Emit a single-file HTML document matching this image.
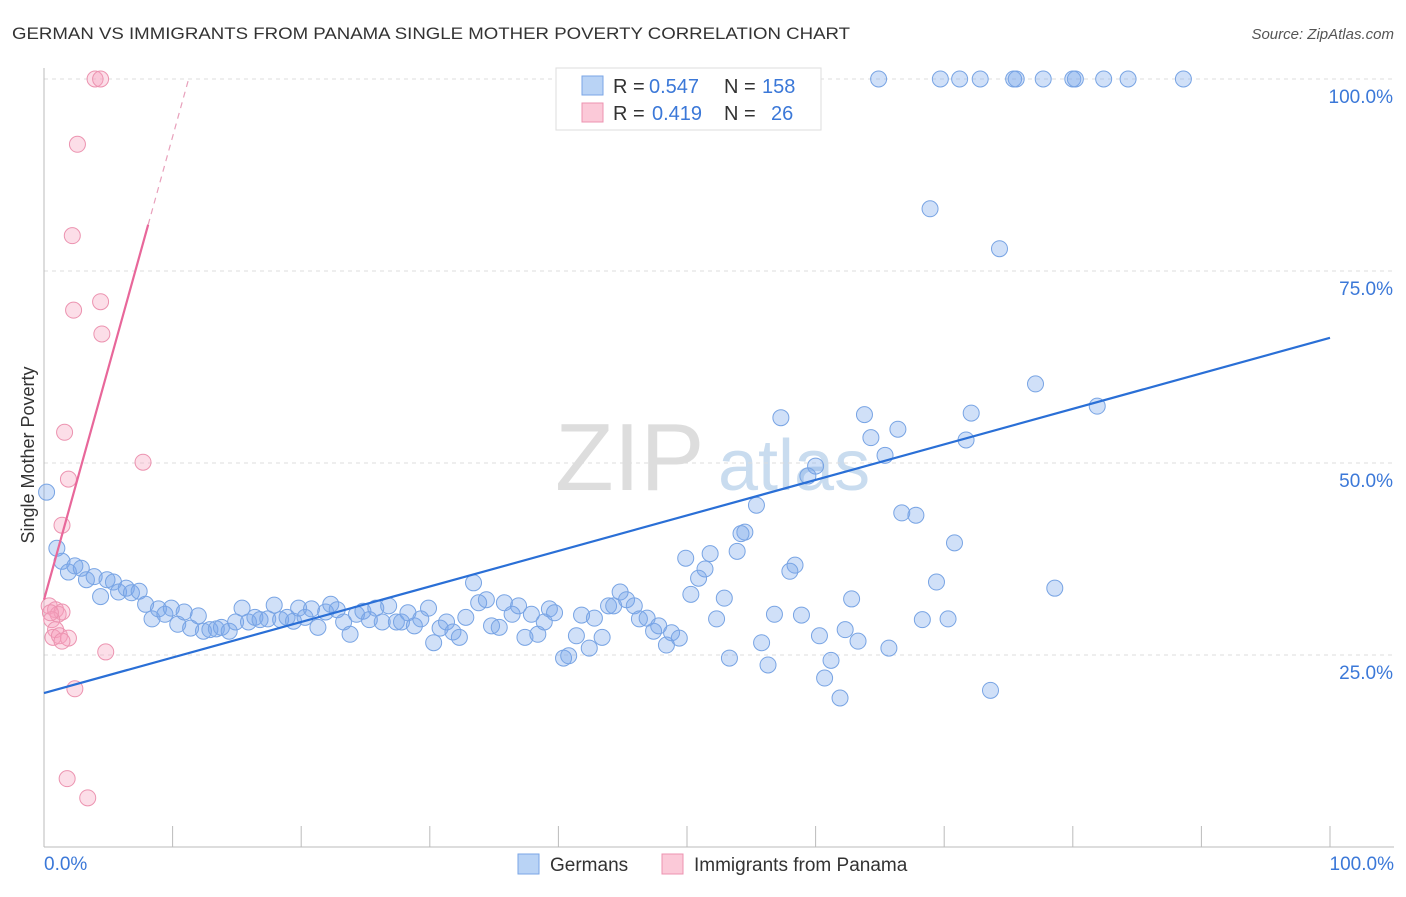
<!DOCTYPE html>
<html><head><meta charset="utf-8"><style>
body{margin:0;background:#fff;font-family:"Liberation Sans",sans-serif;}
svg text{font-family:"Liberation Sans",sans-serif;}
</style></head><body>
<svg id="chart" width="1406" height="892" xmlns="http://www.w3.org/2000/svg">
<text x="12" y="39" font-size="17" fill="#333" textLength="838" lengthAdjust="spacingAndGlyphs">GERMAN VS IMMIGRANTS FROM PANAMA SINGLE MOTHER POVERTY CORRELATION CHART</text>
<text x="1394" y="39" font-size="15" fill="#555" text-anchor="end" font-style="italic">Source: ZipAtlas.com</text>
<text x="555" y="490" font-size="96" fill="#ddd" font-family="Liberation Serif">ZIP</text>
<text x="718" y="490" font-size="72" fill="#c9dcef">atlas</text>
<g id="grid"></g><g id="axes"></g><g id="pts"></g><g id="lines"></g>
<text x="34" y="455" font-size="18" fill="#333" text-anchor="middle" transform="rotate(-90 34 455)">Single Mother Poverty</text>
<text x="44" y="870" font-size="19" fill="#3b78d8">0.0%</text>
<text x="1394" y="870" font-size="19" fill="#3b78d8" text-anchor="end">100.0%</text>
<g>
<rect x="556" y="68" width="265" height="62" fill="#fff" stroke="#ddd"/>
<rect x="582" y="76" width="21" height="19" fill="#b9d3f5" stroke="#7aa6e6"/>
<rect x="582" y="103" width="21" height="19" fill="#fbc9d8" stroke="#ec93b0"/>
<text x="613" y="93" font-size="20" fill="#333">R =</text>
<text x="649" y="93" font-size="20" fill="#3b78d8">0.547</text>
<text x="724" y="93" font-size="20" fill="#333">N =</text>
<text x="762" y="93" font-size="20" fill="#3b78d8">158</text>
<text x="613" y="120" font-size="20" fill="#333">R =</text>
<text x="652" y="120" font-size="20" fill="#3b78d8">0.419</text>
<text x="724" y="120" font-size="20" fill="#333">N =</text>
<text x="771" y="120" font-size="20" fill="#3b78d8">26</text>
</g>
<g>
<rect x="518" y="854" width="21" height="20" fill="#b9d3f5" stroke="#7aa6e6"/>
<text x="550" y="871" font-size="19" fill="#333">Germans</text>
<rect x="662" y="854" width="21" height="20" fill="#fbc9d8" stroke="#ec93b0"/>
<text x="694" y="871" font-size="19" fill="#333">Immigrants from Panama</text>
</g>
</svg>
<script>
const yTicks=[25,50,75,100];
const yTickLabels=["25.0%","50.0%","75.0%","100.0%"];
const germansX=[64.9,69.7,71.2,72.8,75.4,75.6,77.7,80.0,80.2,82.4,84.3,88.6,68.9,74.3,77.1,81.9,72.1,71.7,57.3,63.8,64.3,66.4,65.4,60.0,59.4,55.4,66.7,67.8,54.5,54.2,70.8,49.9,51.8,53.9,51.4,50.9,58.4,58.0,69.4,78.6,50.3,52.9,62.8,56.8,58.9,52.3,68.3,70.3,60.3,62.3,63.3,55.8,65.7,61.2,53.3,56.3,60.7,61.9,73.6,
0.2,1.0,1.4,1.9,2.4,2.9,3.3,3.9,4.4,4.9,5.4,5.8,6.4,6.8,7.4,7.9,8.4,8.9,9.4,9.9,10.4,10.9,11.4,12.0,12.4,12.9,13.4,13.8,14.4,14.9,15.4,15.9,16.4,16.8,17.4,17.9,18.4,18.9,19.4,19.8,20.3,20.8,21.3,21.9,22.3,22.8,23.3,23.8,24.3,24.8,25.3,25.8,26.3,26.8,27.4,27.8,28.3,28.8,29.3,29.9,30.3,30.8,31.3,31.8,32.3,32.8,33.4,33.8,34.4,34.8,35.4,35.8,36.4,36.9,37.4,37.9,38.4,38.9,39.3,39.7,40.4,40.8,41.4,41.8,42.4,42.8,43.4,43.9,44.3,44.8,45.3,45.9,46.3,46.9,47.4,47.8,48.4,48.8,49.4];
const germansY=[100,100,100,100,100,100,100,100,100,100,100,100,83.1,77.9,60.3,57.4,56.5,53.0,55.9,56.3,53.3,54.4,51.0,49.6,48.3,44.5,43.5,43.2,41.0,40.8,39.6,37.6,38.2,38.5,36.2,35.0,36.7,35.9,34.5,33.7,32.9,32.4,32.3,30.3,30.2,29.7,29.6,29.7,27.5,28.3,26.8,26.6,25.9,24.3,24.6,23.7,22.0,19.4,20.4,
46.2,38.9,37.2,35.8,36.6,36.3,34.8,35.2,32.6,34.8,34.5,33.2,33.7,33.1,33.3,31.6,29.7,31.0,30.3,31.1,29.0,30.6,28.5,30.1,28.1,28.3,28.4,28.6,28.1,29.3,31.1,29.3,29.9,29.6,29.7,31.5,29.6,29.9,29.4,31.1,29.9,31.0,28.6,30.6,31.6,30.9,29.3,27.7,30.3,30.7,29.6,31.1,29.3,31.4,29.3,29.3,30.5,28.8,29.7,31.1,26.6,28.5,29.3,28.0,27.3,29.9,34.4,31.8,32.2,28.8,28.6,31.8,30.3,31.4,27.3,30.3,27.7,29.3,31.0,30.5,24.6,24.9,27.5,30.2,25.9,29.8,27.3,31.4,31.4,33.2,32.2,31.4,29.7,29.8,28.1,28.8,26.3,27.9,27.2];
const panamaX=[3.97,4.4,2.6,2.2,4.4,2.3,4.5,1.6,7.7,1.9,1.4,0.4,0.9,1.1,1.4,0.6,0.9,0.7,1.2,1.9,1.4,4.8,2.4,1.8,3.4,0.5];
const panamaY=[100,100,91.5,79.6,71.0,69.9,66.8,54.0,50.1,47.9,41.9,31.4,30.9,30.3,30.6,29.6,28.3,27.3,27.5,27.2,26.8,25.4,20.6,8.9,6.4,30.5];
const germansTrend=[20.05,66.3];
const panamaTrend=[32.2,100];
const NS="http://www.w3.org/2000/svg";
const X0=44,X1=1330,Y0=847,Y100=79;
const xs=v=>X0+(X1-X0)*v/100;
const ys=v=>Y0-(Y0-Y100)*v/100;
function mk(t,a,p){const e=document.createElementNS(NS,t);for(const k in a)e.setAttribute(k,a[k]);p.appendChild(e);return e;}
const grid=document.getElementById('grid'),axes=document.getElementById('axes'),pts=document.getElementById('pts'),lines=document.getElementById('lines');
yTicks.forEach((t,i)=>{
 const l=mk('line',{x1:44,x2:1394,y1:ys(t),y2:ys(t),stroke:'#ddd','stroke-dasharray':'4,4'},grid);
 
 
 const tx=mk('text',{x:1393,y:ys(t)+24,'font-size':19,fill:'#3b78d8','text-anchor':'end'},grid);
 tx.textContent=yTickLabels[i];
 
 
});
const ax=mk('line',{x1:44,x2:1394,y1:847,y2:847,stroke:'#bbb'},axes);


const ay=mk('line',{x1:44,x2:44,y1:68,y2:847,stroke:'#bbb'},axes);


for(let k=0;k<=10;k++){
 const t=mk('line',{x1:xs(k*10),x2:xs(k*10),y1:826,y2:847,stroke:'#bbb'},axes);
 
 
}
germansX.forEach((v,i)=>{
 const c=mk('circle',{cx:xs(v),cy:ys(germansY[i]),r:8,fill:'rgba(120,165,235,0.35)',stroke:'#78a4e4','stroke-width':1},pts);
 
 
});
panamaX.forEach((v,i)=>{
 const c=mk('circle',{cx:xs(v),cy:ys(panamaY[i]),r:8,fill:'rgba(245,160,190,0.35)',stroke:'#ec93b0','stroke-width':1},pts);
 
 
});
const gl=mk('line',{x1:xs(0),y1:ys(germansTrend[0]),x2:xs(100),y2:ys(germansTrend[1]),stroke:'#2a6fd6','stroke-width':2.2},lines);


const pEndX=(ys(panamaTrend[0])-ys(100))/3.6/((X1-X0)/100);
const pl=mk('line',{x1:xs(0),y1:ys(panamaTrend[0]),x2:xs(8.1),y2:ys(panamaTrend[0]+(100-panamaTrend[0])*8.1/pEndX),stroke:'#e8679a','stroke-width':2.2},lines);


const pd=mk('line',{x1:xs(8.1),y1:ys(panamaTrend[0]+(100-panamaTrend[0])*8.1/pEndX),x2:xs(pEndX),y2:ys(100),stroke:'#e8a0bb','stroke-width':1.2,'stroke-dasharray':'6,5'},lines);


</script>
</body></html>
